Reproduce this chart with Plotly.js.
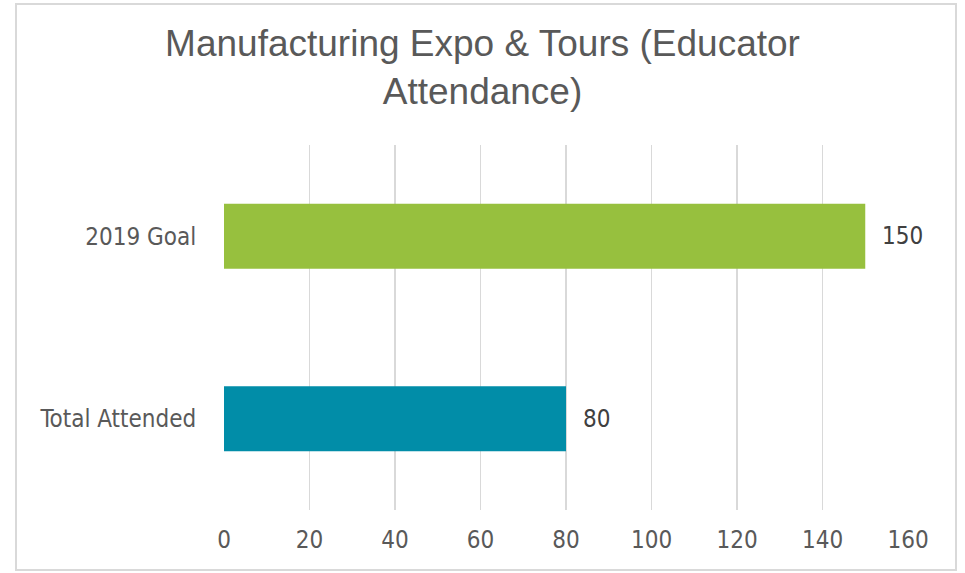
<!DOCTYPE html>
<html>
<head>
<meta charset="utf-8">
<script src="https://cdn.plot.ly/plotly-3.0.1.min.js"></script>
<style>
  html, body { margin: 0; padding: 0; background: #fff; }
  #wrap { position: relative; width: 965px; height: 573px; }
  #chart { width: 965px; height: 573px; }
  #frame { position: absolute; left: 15px; top: 3px; width: 938px; height: 564px;
           border: 2px solid #D9D9D9; pointer-events: none; }
</style>
</head>
<body>
<div id="wrap">
  <div id="chart"></div>
  <div id="frame"></div>
</div>
<script>
const categories = ["Total Attended", "2019 Goal"];
const values = [80, 150];
const barColors = ["#018DA8", "#97C03E"];
const xTicks = [0, 20, 40, 60, 80, 100, 120, 140, 160];

const catFont = "'DejaVu Sans Condensed', 'Liberation Sans Narrow', sans-serif";
const numFont = "'Liberation Sans Narrow', 'DejaVu Sans Condensed', sans-serif";
const textColor = "#595959";

const trace = {
  type: "bar",
  orientation: "h",
  y: categories,
  x: values,
  marker: { color: barColors },
  hoverinfo: "none"
};

const annotations = categories.map((c, i) => ({
  x: values[i], y: c, xref: "x", yref: "y",
  text: String(values[i]), showarrow: false,
  xanchor: "left", yanchor: "middle", xshift: 15,
  font: { family: numFont, size: 24, color: "#404040" }
}));

const layout = {
  width: 965, height: 573,
  margin: { l: 224, r: 57, t: 145, b: 63 },
  paper_bgcolor: "#ffffff", plot_bgcolor: "#ffffff",
  showlegend: false,
  bargap: 0.644,
  title: {
    text: "Manufacturing Expo &amp; Tours (Educator<br>Attendance)",
    x: 0.5, xanchor: "center",
    yref: "container", y: 0.903, yanchor: "middle",
    font: { family: "'Liberation Sans Narrow', sans-serif", size: 37, color: textColor }
  },
  xaxis: {
    range: [0, 160], tickvals: xTicks, ticktext: xTicks.map(String),
    showgrid: true, gridcolor: "#D9D9D9", gridwidth: 1.5,
    zeroline: false, showline: false,
    ticks: "outside", ticklen: 8, tickcolor: "rgba(0,0,0,0)",
    tickfont: { family: numFont, size: 24, color: textColor },
    fixedrange: true
  },
  yaxis: {
    type: "category", categoryorder: "array", categoryarray: categories,
    showgrid: false, zeroline: false, showline: false,
    ticks: "outside", ticklen: 22, tickcolor: "rgba(0,0,0,0)",
    tickfont: { family: catFont, size: 24, color: textColor },
    fixedrange: true
  },
  annotations: annotations
};

Plotly.newPlot("chart", [trace], layout, { displayModeBar: false, staticPlot: true });
</script>
</body>
</html>
